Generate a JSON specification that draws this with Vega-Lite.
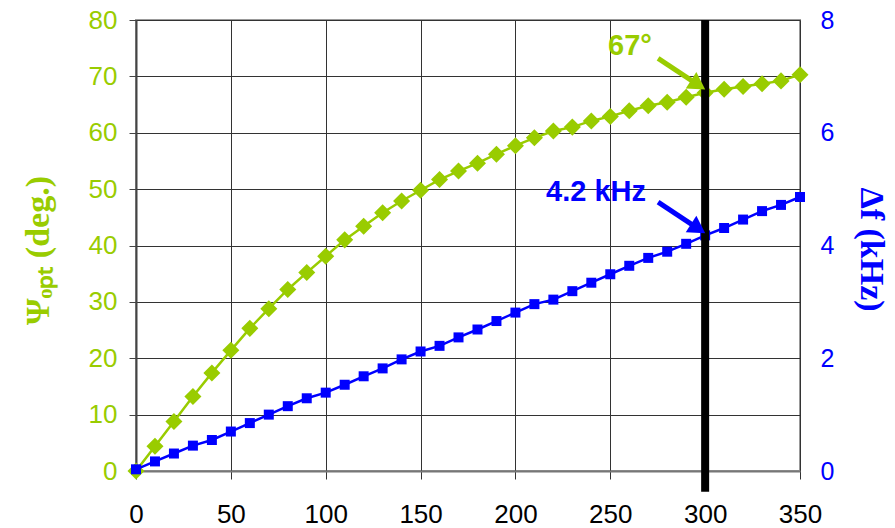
{
  "$schema": "https://vega.github.io/schema/vega-lite/v6.json",
  "width": 664,
  "height": 451,
  "autosize": {"type": "none"},
  "padding": {"left": 136, "top": 20, "right": 95, "bottom": 57},
  "background": "white",
  "config": {
    "view": {"stroke": "#999999", "strokeWidth": 2},
    "font": "Liberation Sans"
  },
  "datasets": {
    "psi": [
      {"x": 0, "deg": 0}, {"x": 10, "deg": 4.4}, {"x": 20, "deg": 8.8}, {"x": 30, "deg": 13.2},
      {"x": 40, "deg": 17.4}, {"x": 50, "deg": 21.4}, {"x": 60, "deg": 25.3}, {"x": 70, "deg": 28.8},
      {"x": 80, "deg": 32.2}, {"x": 90, "deg": 35.2}, {"x": 100, "deg": 38.1}, {"x": 110, "deg": 41.0},
      {"x": 120, "deg": 43.4}, {"x": 130, "deg": 45.8}, {"x": 140, "deg": 47.9}, {"x": 150, "deg": 49.8},
      {"x": 160, "deg": 51.7}, {"x": 170, "deg": 53.2}, {"x": 180, "deg": 54.6}, {"x": 190, "deg": 56.2},
      {"x": 200, "deg": 57.7}, {"x": 210, "deg": 59.1}, {"x": 220, "deg": 60.3}, {"x": 230, "deg": 61.0},
      {"x": 240, "deg": 62.1}, {"x": 250, "deg": 62.9}, {"x": 260, "deg": 63.9}, {"x": 270, "deg": 64.8},
      {"x": 280, "deg": 65.4}, {"x": 290, "deg": 66.3}, {"x": 300, "deg": 67.1}, {"x": 310, "deg": 67.7},
      {"x": 320, "deg": 68.2}, {"x": 330, "deg": 68.7}, {"x": 340, "deg": 69.2}, {"x": 350, "deg": 70.3}
    ],
    "df": [
      {"x": 0, "khz": 0.03}, {"x": 10, "khz": 0.17}, {"x": 20, "khz": 0.31}, {"x": 30, "khz": 0.45},
      {"x": 40, "khz": 0.55}, {"x": 50, "khz": 0.70}, {"x": 60, "khz": 0.85}, {"x": 70, "khz": 1.0},
      {"x": 80, "khz": 1.15}, {"x": 90, "khz": 1.29}, {"x": 100, "khz": 1.39}, {"x": 110, "khz": 1.53},
      {"x": 120, "khz": 1.68}, {"x": 130, "khz": 1.82}, {"x": 140, "khz": 1.98}, {"x": 150, "khz": 2.12},
      {"x": 160, "khz": 2.22}, {"x": 170, "khz": 2.37}, {"x": 180, "khz": 2.51}, {"x": 190, "khz": 2.66},
      {"x": 200, "khz": 2.81}, {"x": 210, "khz": 2.96}, {"x": 220, "khz": 3.04}, {"x": 230, "khz": 3.19},
      {"x": 240, "khz": 3.34}, {"x": 250, "khz": 3.49}, {"x": 260, "khz": 3.64}, {"x": 270, "khz": 3.78},
      {"x": 280, "khz": 3.89}, {"x": 290, "khz": 4.03}, {"x": 300, "khz": 4.18}, {"x": 310, "khz": 4.31},
      {"x": 320, "khz": 4.46}, {"x": 330, "khz": 4.61}, {"x": 340, "khz": 4.72}, {"x": 350, "khz": 4.86}
    ],
    "marker": [{"x": 300, "khz": 8, "khz2": -0.37}],
    "lblPsi": [{"x": 260.4, "khz": 7.54, "text": "67°"}],
    "lblDf": [{"x": 242.5, "khz": 4.95, "text": "4.2 kHz"}],
    "arrowPsi": [{"x": 275.2, "khz": 7.32, "x2": 296.3, "khz2": 6.85}],
    "arrowDf": [{"x": 275.2, "khz": 4.77, "x2": 296.3, "khz2": 4.30}]
  },
  "encoding": {
    "x": {
      "field": "x",
      "type": "quantitative",
      "scale": {"domain": [0, 350], "nice": false},
      "axis": {
        "values": [0, 50, 100, 150, 200, 250, 300, 350],
        "grid": true,
        "gridColor": "#333333",
        "gridWidth": 1,
        "labelFontSize": 26,
        "labelColor": "#000000",
        "labelFont": "Liberation Sans",
        "labelFlush": false,
        "labelOverlap": false,
        "tickSize": 8,
        "tickColor": "#333333",
        "domainColor": "#777777",
        "domainWidth": 2,
        "labelPadding": 22,
        "title": null
      }
    }
  },
  "resolve": {"scale": {"y": "independent"}},
  "layer": [
    {
      "data": {"name": "psi"},
      "encoding": {
        "y": {
          "field": "deg",
          "type": "quantitative",
          "scale": {"domain": [0, 80], "nice": false},
          "axis": {
            "orient": "left",
            "values": [0, 10, 20, 30, 40, 50, 60, 70, 80],
            "grid": true,
            "gridColor": "#333333",
            "gridWidth": 1,
            "labelFontSize": 26,
            "labelColor": "#99CC00",
            "labelFont": "Liberation Sans",
            "labelFlush": false,
            "labelOverlap": false,
            "tickSize": 7,
            "tickColor": "#444444",
            "domainColor": "#444444",
            "domainWidth": 2,
            "labelPadding": 12,
            "title": "Ψₒₚₜ (deg.)",
            "titleFont": "Liberation Serif",
            "titleFontWeight": "bold",
            "titleFontSize": 34,
            "titleColor": "#99CC00",
            "titleAngle": 270,
            "titleAlign": "center",
            "titleBaseline": "middle",
            "titleX": -98,
            "titleY": 230
          }
        }
      },
      "layer": [
        {"mark": {"type": "line", "color": "#99CC00", "strokeWidth": 2.5}},
        {"mark": {"type": "point", "shape": "diamond", "filled": true, "color": "#99CC00", "size": 290, "opacity": 1}}
      ]
    },
    {
      "layer": [
        {
          "data": {"name": "df"},
          "encoding": {
            "y": {
              "field": "khz",
              "type": "quantitative",
              "scale": {"domain": [0, 8], "nice": false},
              "axis": {
                "orient": "right",
                "values": [0, 2, 4, 6, 8],
                "format": "d",
                "grid": false,
                "labelFontSize": 25,
                "labelColor": "#0000FF",
                "labelFont": "Liberation Sans",
                "labelFlush": false,
                "labelOverlap": false,
                "tickSize": 0,
                "domain": false,
                "labelPadding": 20,
                "title": "Δf (kHz)",
                "titleFont": "Liberation Serif",
                "titleFontWeight": "bold",
                "titleFontSize": 34,
                "titleColor": "#0000FF",
                "titleAngle": 90,
                "titleAlign": "center",
                "titleBaseline": "middle",
                "titleX": 70,
                "titleY": 229
              }
            }
          },
          "layer": [
            {"mark": {"type": "line", "color": "#0000FF", "strokeWidth": 2.5}},
            {"mark": {"type": "point", "shape": "square", "filled": true, "color": "#0000FF", "size": 100, "opacity": 1}}
          ]
        },
        {
          "data": {"name": "marker"},
          "mark": {"type": "rule", "color": "#000000", "strokeWidth": 8},
          "encoding": {
            "y": {"field": "khz", "type": "quantitative"},
            "y2": {"field": "khz2"}
          }
        },
        {
          "data": {"name": "arrowPsi"},
          "layer": [
            {
              "mark": {"type": "rule", "color": "#99CC00", "strokeWidth": 5},
              "encoding": {
                "y": {"field": "khz", "type": "quantitative"},
                "x2": {"field": "x2"},
                "y2": {"field": "khz2"}
              }
            },
            {
              "mark": {"type": "point", "shape": "triangle-up", "filled": true, "color": "#99CC00", "size": 380, "opacity": 1, "angle": 123},
              "encoding": {
                "x": {"field": "x2", "type": "quantitative"},
                "y": {"field": "khz2", "type": "quantitative"}
              }
            }
          ]
        },
        {
          "data": {"name": "arrowDf"},
          "layer": [
            {
              "mark": {"type": "rule", "color": "#0000FF", "strokeWidth": 5},
              "encoding": {
                "y": {"field": "khz", "type": "quantitative"},
                "x2": {"field": "x2"},
                "y2": {"field": "khz2"}
              }
            },
            {
              "mark": {"type": "point", "shape": "triangle-up", "filled": true, "color": "#0000FF", "size": 380, "opacity": 1, "angle": 123},
              "encoding": {
                "x": {"field": "x2", "type": "quantitative"},
                "y": {"field": "khz2", "type": "quantitative"}
              }
            }
          ]
        },
        {
          "data": {"name": "lblPsi"},
          "mark": {"type": "text", "color": "#99CC00", "font": "Liberation Sans", "fontWeight": "bold", "fontSize": 29, "align": "center", "baseline": "middle"},
          "encoding": {
            "y": {"field": "khz", "type": "quantitative"},
            "text": {"field": "text"}
          }
        },
        {
          "data": {"name": "lblDf"},
          "mark": {"type": "text", "color": "#0000FF", "font": "Liberation Sans", "fontWeight": "bold", "fontSize": 29, "align": "center", "baseline": "middle"},
          "encoding": {
            "y": {"field": "khz", "type": "quantitative"},
            "text": {"field": "text"}
          }
        }
      ]
    }
  ]
}
